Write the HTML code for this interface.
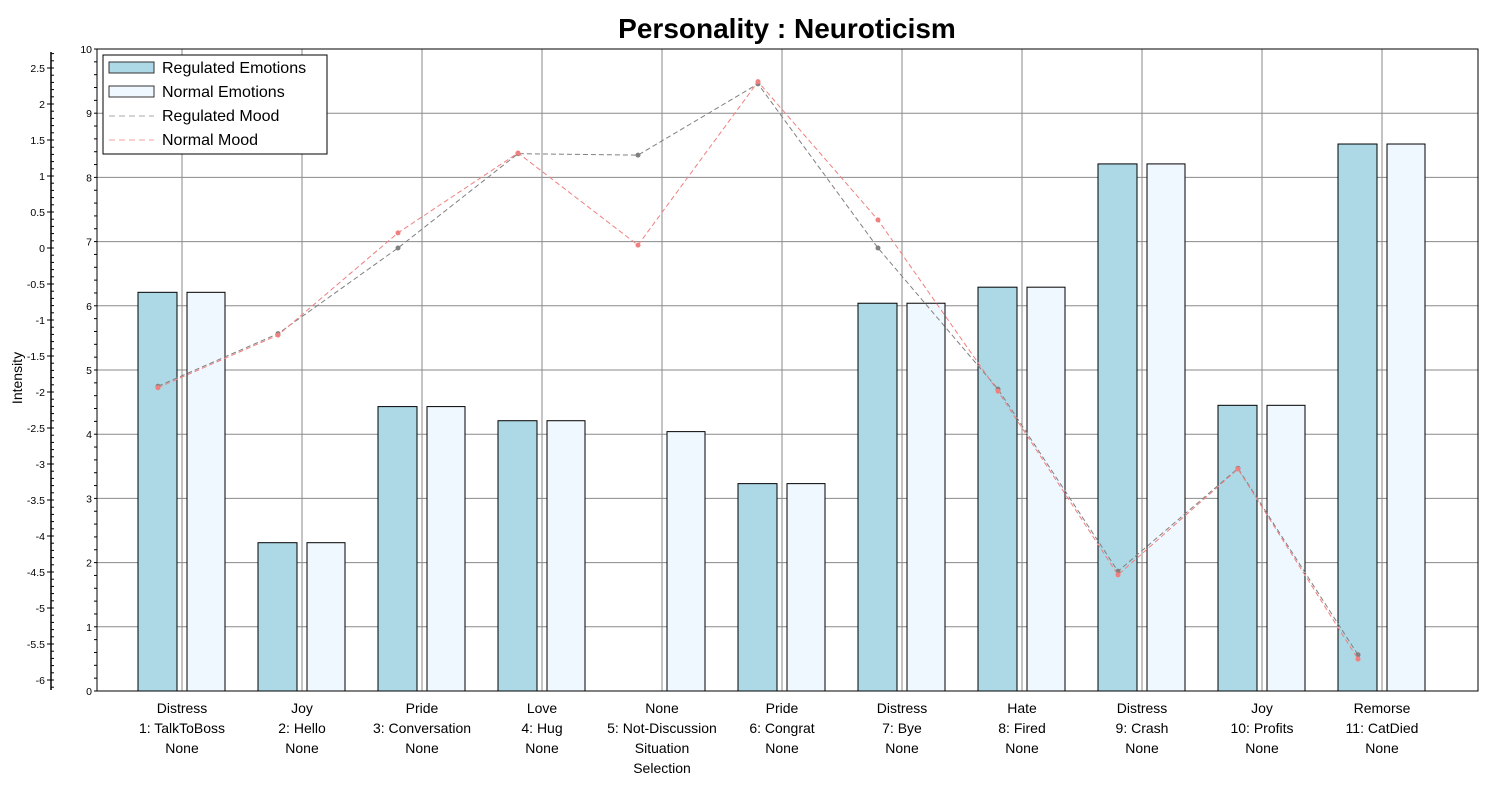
<!DOCTYPE html>
<html><head><meta charset="utf-8"><style>
body{margin:0;background:#fff;font-family:"Liberation Sans",sans-serif}
</style></head><body>
<svg id="c" width="1500" height="800" xmlns="http://www.w3.org/2000/svg"></svg>
<script>
const categories=[["Distress","1: TalkToBoss","None"],["Joy","2: Hello","None"],["Pride","3: Conversation","None"],["Love","4: Hug","None"],["None","5: Not-Discussion","Situation","Selection"],["Pride","6: Congrat","None"],["Distress","7: Bye","None"],["Hate","8: Fired","None"],["Distress","9: Crash","None"],["Joy","10: Profits","None"],["Remorse","11: CatDied","None"]];
const regulatedEmotions=[6.21,2.31,4.43,4.21,0,3.23,6.04,6.29,8.21,4.45,8.52];
const normalEmotions=[6.21,2.31,4.43,4.21,4.04,3.23,6.04,6.29,8.21,4.45,8.52];
const regulatedMood=[-1.92,-1.19,0,1.31,1.29,2.28,0,-1.96,-4.49,-3.06,-5.65];
const normalMood=[-1.94,-1.21,0.21,1.32,0.04,2.31,0.39,-1.99,-4.54,-3.07,-5.71];
const intensityTicks=[0,1,2,3,4,5,6,7,8,9,10];
const moodTicks=[2.5,2,1.5,1,0.5,0,-0.5,-1,-1.5,-2,-2.5,-3,-3.5,-4,-4.5,-5,-5.5,-6];
const svg=document.getElementById('c');const NS='http://www.w3.org/2000/svg';
function el(t,a,p){const e=document.createElementNS(NS,t);for(const k in a)e.setAttribute(k,a[k]);(p||svg).appendChild(e);return e;}
const X0=97,X1=1478,Y0=49,Y1=691;
const xc=i=>182+120*i;
const yI=v=>691-v*64.2;
const yM=m=>248-m*72;
let t=el('text',{x:787,y:38,'text-anchor':'middle','font-size':28,'font-weight':'bold'});t.textContent='Personality : Neuroticism';

intensityTicks.forEach(v=>{let l=el('line',{x1:X0,x2:X1,y1:yI(v),y2:yI(v),stroke:'#8a8a8a','stroke-width':1});

let tx=el('text',{x:X0-5,y:yI(v)+4,'text-anchor':'end','font-size':10.5});tx.textContent=v;
});
for(let v=0;v<=10.001;v+=0.2){el('line',{x1:X0-3,x2:X0,y1:yI(v),y2:yI(v),stroke:'#000'});}
categories.forEach((c,i)=>{let l=el('line',{x1:xc(i),x2:xc(i),y1:Y0,y2:Y1,stroke:'#8a8a8a'});

c.forEach((s,j)=>{let tx=el('text',{x:xc(i),y:713+j*20,'text-anchor':'middle','font-size':14});tx.textContent=s;
});});
categories.forEach((c,i)=>{
 if(regulatedEmotions[i]>0){let r=el('rect',{x:xc(i)-44,y:yI(regulatedEmotions[i]),width:39,height:yI(0)-yI(regulatedEmotions[i]),fill:'#add8e6',stroke:'#000'});
 }
 if(normalEmotions[i]>0){let r=el('rect',{x:xc(i)+5,y:yI(normalEmotions[i]),width:38,height:yI(0)-yI(normalEmotions[i]),fill:'#f0f8ff',stroke:'#000'});
 }
});
const xp=i=>xc(i)-24;
[[regulatedMood,'#808080','regulated-mood'],[normalMood,'#f08080','normal-mood']].forEach(([d,col,n])=>{
 let p=el('polyline',{points:d.map((m,i)=>xp(i)+','+yM(m)).join(' '),fill:'none',stroke:col,'stroke-dasharray':'5,3'});
 
 d.forEach((m,i)=>{let c=el('circle',{cx:xp(i),cy:yM(m),r:2.5,fill:col});
 });
});
el('rect',{x:X0,y:Y0,width:X1-X0,height:Y1-Y0,fill:'none',stroke:'#000'});
el('line',{x1:51,x2:51,y1:52,y2:690,stroke:'#000','stroke-width':1.5});
for(let m=-6.1;m<=2.75;m+=0.1){el('line',{x1:51,x2:54,y1:yM(m),y2:yM(m),stroke:'#000'});}
moodTicks.forEach(m=>{el('line',{x1:47,x2:51,y1:yM(m),y2:yM(m),stroke:'#000'});
let tx=el('text',{x:45,y:yM(m)+4,'text-anchor':'end','font-size':10.5});tx.textContent=m;
});
let yt=el('text',{x:22,y:378,'text-anchor':'middle','font-size':14,transform:'rotate(-90 22 378)'});yt.textContent='Intensity';

let lg=el('g',{});
el('rect',{x:103,y:55,width:224,height:99,fill:'#fff',stroke:'#000'},lg);
el('rect',{x:109,y:62,width:45,height:11,fill:'#add8e6',stroke:'#333'},lg);
el('rect',{x:109,y:86,width:45,height:11,fill:'#f0f8ff',stroke:'#333'},lg);
el('line',{x1:109,x2:154,y1:116,y2:116,stroke:'#aaa','stroke-dasharray':'6,4'},lg);
el('line',{x1:109,x2:154,y1:140,y2:140,stroke:'#f0a0a0','stroke-dasharray':'6,4'},lg);
['Regulated Emotions','Normal Emotions','Regulated Mood','Normal Mood'].forEach((s,j)=>{let tx=el('text',{x:162,y:73+j*24,'font-size':16},lg);tx.textContent=s;
});
</script>
</body></html>
